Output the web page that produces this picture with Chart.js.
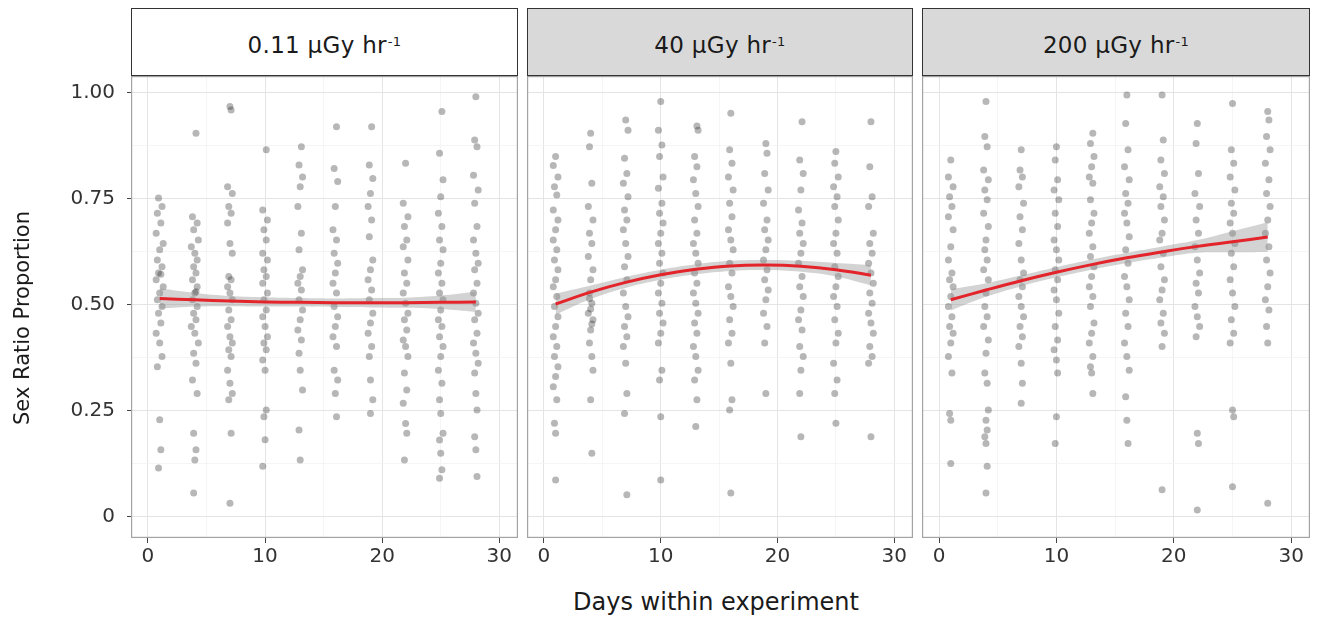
<!DOCTYPE html>
<html>
<head>
<meta charset="utf-8">
<script src="https://cdn.jsdelivr.net/npm/chart.js@4.4.1/dist/chart.umd.min.js"></script>
<style>
  body { margin:0; background:#fff; width:1318px; height:619px; overflow:hidden; position:relative;
         font-family:"DejaVu Sans", sans-serif; }
  .strip { position:absolute; top:8px; height:68px; border:1.5px solid #333; box-sizing:border-box;
           display:flex; align-items:center; justify-content:center; font-size:23px; color:#1a1a1a;
           padding-top:6px; letter-spacing:0.3px; }
  .strip sup { font-size:13px; position:relative; top:-4px; margin-left:1px; }
  canvas { position:absolute; }
  #xtitle { position:absolute; left:0; width:1432px; top:588px; text-align:center; font-size:24px; color:#1a1a1a; }
  #ytitle { position:absolute; left:22px; top:318px; width:300px; margin-left:-150px; margin-top:-14px;
            height:28px; line-height:28px; text-align:center; font-size:21px; color:#1a1a1a;
            transform:rotate(-90deg); }
</style>
</head>
<body>
<div class="strip" style="left:131px;width:387px;background:#ffffff;">0.11 µGy hr<sup>-1</sup></div>
<div class="strip" style="left:527px;width:386px;background:#d9d9d9;">40 µGy hr<sup>-1</sup></div>
<div class="strip" style="left:922px;width:388px;background:#d9d9d9;">200 µGy hr<sup>-1</sup></div>
<canvas id="pLow" width="518" height="504" style="left:0px;top:76px;"></canvas>
<canvas id="pMid" width="386" height="504" style="left:527px;top:76px;"></canvas>
<canvas id="pHigh" width="388" height="504" style="left:922px;top:76px;"></canvas>
<div id="ytitle">Sex Ratio Proportion</div>
<div id="xtitle">Days within experiment</div>
<script>
// Sampling days used for the smoothed fit
const fitDays = [1, 4, 7, 10, 13, 16, 19, 22, 25, 28];

// 0.11 µGy/hr: observations [day (jittered), proportion]
const lowPoints = [
  [0.9,.752],[1.2,.732],[0.8,.716],[1.1,.693],[0.7,.669],[1.3,.645],[1.0,.630],[0.8,.606],[1.2,.590],[0.9,.575],[1.1,.572],[0.7,.559],[1.3,.543],[1.0,.528],[0.8,.512],[1.2,.496],[0.9,.480],[1.1,.457],[0.7,.433],[1.0,.410],[1.2,.378],[0.8,.354],[1.0,.229],[1.1,.158],[0.9,.115],
  [4.1,.905],[3.8,.708],[4.2,.693],[3.9,.677],[4.3,.653],[3.7,.637],[4.0,.622],[4.2,.606],[3.9,.590],[4.1,.575],[3.8,.559],[4.2,.543],[4.0,.528],[4.1,.531],[3.8,.512],[4.2,.496],[3.9,.480],[4.1,.465],[3.7,.449],[4.0,.433],[4.3,.410],[3.9,.386],[4.1,.362],[3.8,.323],[4.2,.291],[3.9,.197],[4.1,.158],[4.0,.134],[3.9,.056],
  [7.0,.968],[7.1,.960],[6.8,.779],[7.2,.763],[6.9,.732],[7.1,.716],[6.8,.693],[7.0,.645],[7.2,.622],[6.9,.567],[7.1,.559],[6.8,.543],[7.0,.528],[7.2,.512],[6.9,.488],[7.1,.465],[6.8,.449],[7.0,.425],[7.2,.410],[6.9,.394],[7.1,.378],[6.8,.346],[7.0,.315],[7.2,.291],[6.9,.276],[7.1,.197],[7.0,.032],
  [10.1,.866],[9.8,.724],[10.2,.700],[9.9,.677],[10.1,.653],[9.8,.622],[10.2,.606],[9.9,.583],[10.1,.567],[9.8,.551],[10.2,.528],[9.9,.512],[10.1,.488],[9.8,.472],[10.0,.449],[10.2,.425],[9.9,.410],[10.1,.394],[9.8,.370],[10.0,.346],[10.1,.252],[9.9,.236],[10.0,.182],[9.8,.119],
  [13.1,.873],[12.9,.830],[13.2,.802],[13.0,.779],[12.8,.732],[13.1,.669],[12.9,.630],[13.2,.583],[13.0,.567],[12.8,.551],[13.1,.535],[12.9,.512],[13.2,.488],[13.0,.465],[12.8,.441],[13.1,.417],[12.9,.386],[13.0,.346],[13.2,.299],[12.9,.205],[13.0,.134],
  [16.1,.920],[15.9,.822],[16.2,.791],[16.0,.732],[15.8,.677],[16.1,.653],[15.9,.622],[16.2,.598],[16.0,.575],[15.8,.551],[16.1,.528],[15.9,.496],[16.2,.472],[16.0,.449],[15.8,.425],[16.1,.402],[15.9,.346],[16.2,.323],[16.0,.291],[16.1,.236],
  [19.1,.920],[18.9,.830],[19.2,.798],[19.0,.763],[18.8,.732],[19.1,.700],[18.9,.661],[19.2,.606],[19.0,.583],[18.8,.559],[19.1,.535],[18.9,.512],[19.2,.480],[19.0,.457],[18.8,.433],[19.1,.402],[18.9,.378],[19.0,.323],[19.2,.276],[19.0,.244],
  [22.0,.834],[21.8,.740],[22.2,.708],[21.9,.685],[22.1,.653],[21.8,.637],[22.2,.606],[21.9,.575],[22.1,.551],[21.8,.528],[22.0,.504],[22.2,.480],[21.9,.465],[22.1,.441],[21.8,.417],[22.0,.402],[22.2,.378],[21.9,.339],[22.1,.299],[21.8,.268],[22.0,.220],[22.1,.197],[21.9,.134],
  [25.1,.956],[24.9,.858],[25.2,.795],[25.0,.755],[24.8,.716],[25.1,.685],[24.9,.653],[25.2,.630],[25.0,.598],[24.8,.575],[25.1,.551],[24.9,.528],[25.2,.512],[25.0,.488],[24.8,.465],[25.1,.449],[24.9,.425],[25.2,.402],[25.0,.378],[24.8,.346],[25.1,.315],[24.9,.276],[25.0,.244],[25.2,.197],[24.9,.181],[25.0,.150],[25.1,.111],[24.9,.091],
  [28.0,.991],[27.9,.889],[28.1,.873],[27.8,.806],[28.2,.771],[27.9,.740],[28.1,.685],[27.8,.653],[28.0,.622],[28.2,.598],[27.9,.583],[28.1,.551],[27.8,.528],[28.0,.504],[28.2,.480],[27.9,.465],[28.1,.433],[27.8,.410],[28.0,.386],[28.2,.362],[27.9,.339],[28.0,.291],[28.1,.252],[27.9,.189],[28.0,.158],[28.1,.095]
];
const lowFit   = [0.515, 0.512, 0.509, 0.507, 0.506, 0.505, 0.505, 0.505, 0.506, 0.507];
const lowUpper = [0.539, 0.528, 0.521, 0.518, 0.516, 0.515, 0.516, 0.517, 0.522, 0.531];
const lowLower = [0.491, 0.496, 0.497, 0.496, 0.496, 0.495, 0.494, 0.493, 0.490, 0.483];

// 40 µGy/hr
const midPoints = [
  [1.0,.850],[0.8,.829],[1.2,.802],[0.9,.779],[1.1,.759],[0.8,.724],[1.2,.700],[1.0,.677],[0.8,.653],[1.1,.630],[0.9,.606],[1.2,.583],[1.0,.559],[0.8,.543],[1.1,.520],[0.9,.496],[1.2,.472],[1.0,.449],[0.8,.425],[1.1,.402],[0.9,.378],[1.2,.354],[1.0,.331],[0.8,.307],[1.1,.276],[0.9,.221],[1.0,.197],[1.0,.087],
  [4.0,.905],[3.9,.873],[4.1,.787],[3.8,.732],[4.2,.700],[3.9,.669],[4.1,.645],[3.8,.614],[4.2,.583],[4.0,.559],[3.9,.528],[3.9,.515],[4.1,.504],[4.0,.490],[3.8,.480],[4.2,.465],[4.1,.455],[4.0,.441],[3.9,.410],[4.1,.378],[4.2,.346],[4.0,.276],[4.1,.150],
  [7.0,.936],[7.2,.912],[6.9,.846],[7.1,.810],[6.8,.787],[7.2,.755],[6.9,.724],[7.1,.700],[6.8,.677],[7.0,.645],[7.2,.614],[6.9,.590],[7.1,.559],[6.8,.528],[7.0,.496],[7.2,.472],[6.9,.449],[7.1,.425],[6.8,.402],[7.0,.362],[7.1,.291],[6.9,.244],[7.1,.052],
  [10.0,.980],[9.8,.912],[10.1,.877],[9.9,.850],[10.2,.802],[9.8,.775],[10.1,.740],[9.9,.716],[10.2,.693],[10.0,.669],[9.8,.645],[10.1,.622],[9.9,.598],[10.2,.575],[10.0,.551],[9.8,.528],[10.1,.504],[9.9,.480],[10.2,.457],[10.0,.433],[9.8,.410],[10.1,.346],[9.9,.323],[10.0,.236],[10.0,.087],
  [13.1,.922],[13.2,.912],[12.9,.850],[13.1,.826],[12.8,.795],[13.0,.763],[13.2,.732],[12.9,.700],[13.1,.669],[12.8,.645],[13.0,.622],[13.2,.598],[12.9,.575],[13.1,.551],[12.8,.528],[13.0,.504],[13.2,.480],[12.9,.457],[13.1,.433],[12.8,.402],[13.0,.378],[13.2,.346],[12.9,.323],[13.1,.276],[13.0,.213],
  [16.0,.952],[15.9,.866],[16.1,.834],[15.8,.802],[16.2,.771],[15.9,.740],[16.1,.708],[15.8,.677],[16.0,.653],[16.2,.630],[15.9,.598],[16.1,.575],[15.8,.543],[16.0,.520],[16.2,.496],[15.9,.465],[16.1,.433],[15.8,.410],[16.0,.362],[16.1,.276],[15.9,.252],[16.0,.056],
  [19.0,.881],[19.1,.858],[18.9,.810],[19.2,.771],[18.8,.740],[19.1,.700],[18.9,.677],[19.2,.653],[19.0,.630],[18.8,.606],[19.1,.583],[18.9,.559],[19.2,.535],[19.0,.512],[18.8,.480],[19.1,.449],[18.9,.410],[19.0,.291],
  [22.1,.932],[21.9,.842],[22.2,.810],[22.0,.771],[21.8,.724],[22.1,.693],[21.9,.669],[22.2,.645],[22.0,.622],[21.8,.598],[22.1,.567],[21.9,.543],[22.2,.520],[22.0,.488],[21.8,.465],[22.1,.441],[21.9,.402],[22.2,.378],[22.0,.346],[21.9,.291],[22.0,.189],
  [25.0,.862],[24.9,.834],[25.2,.802],[24.8,.779],[25.1,.755],[24.9,.732],[25.2,.700],[25.0,.669],[24.8,.645],[25.1,.622],[24.9,.590],[25.2,.567],[25.0,.543],[24.8,.520],[25.1,.496],[24.9,.465],[25.2,.433],[25.0,.410],[24.8,.362],[25.1,.323],[24.9,.291],[25.0,.221],
  [28.0,.932],[27.9,.826],[28.1,.755],[27.8,.732],[28.2,.669],[27.9,.645],[28.1,.622],[27.8,.598],[28.0,.575],[28.2,.551],[27.9,.528],[28.1,.504],[27.8,.480],[28.0,.457],[28.2,.433],[27.9,.402],[28.1,.378],[27.8,.362],[28.0,.189]
];
const midFit   = [0.502, 0.530, 0.553, 0.571, 0.584, 0.592, 0.594, 0.591, 0.583, 0.570];
const midUpper = [0.527, 0.546, 0.566, 0.583, 0.596, 0.604, 0.606, 0.604, 0.599, 0.594];
const midLower = [0.477, 0.514, 0.540, 0.559, 0.572, 0.580, 0.582, 0.578, 0.567, 0.546];

// 200 µGy/hr
const highPoints = [
  [1.0,.842],[0.8,.802],[1.2,.779],[0.9,.755],[1.1,.732],[0.8,.708],[1.2,.677],[1.0,.637],[0.8,.606],[1.1,.575],[0.9,.559],[1.2,.543],[1.0,.520],[0.8,.496],[1.1,.472],[0.9,.449],[1.2,.433],[1.0,.410],[0.8,.378],[1.1,.339],[0.9,.244],[1.0,.228],[1.0,.126],
  [4.0,.980],[3.9,.897],[4.1,.873],[3.8,.818],[4.2,.795],[3.9,.771],[4.1,.748],[3.8,.716],[4.2,.685],[4.0,.653],[3.9,.630],[4.1,.606],[3.8,.583],[4.2,.559],[4.0,.528],[3.9,.496],[4.1,.472],[3.8,.449],[4.2,.417],[4.0,.386],[3.9,.339],[4.1,.315],[4.2,.252],[4.0,.228],[4.1,.205],[3.9,.189],[4.0,.173],[4.1,.119],[4.0,.056],
  [7.0,.866],[6.9,.818],[7.1,.802],[6.8,.779],[7.2,.740],[6.9,.708],[7.1,.677],[6.8,.645],[7.0,.606],[7.2,.575],[6.9,.559],[7.1,.543],[6.8,.520],[7.0,.496],[7.2,.472],[6.9,.449],[7.1,.425],[6.8,.402],[7.0,.362],[7.1,.315],[7.0,.268],
  [10.0,.873],[9.9,.842],[10.1,.795],[9.8,.771],[10.2,.748],[9.9,.716],[10.1,.685],[9.8,.653],[10.0,.630],[10.2,.606],[9.9,.583],[10.1,.559],[9.8,.535],[10.0,.512],[10.2,.480],[9.9,.449],[10.1,.417],[9.8,.394],[10.0,.370],[10.1,.339],[10.0,.236],[9.9,.173],
  [13.1,.905],[12.9,.881],[13.2,.850],[13.0,.826],[12.8,.802],[13.1,.787],[12.9,.748],[13.2,.716],[13.0,.693],[12.8,.669],[13.1,.637],[12.9,.614],[13.2,.590],[13.0,.567],[12.8,.543],[13.1,.520],[12.9,.496],[13.2,.457],[13.0,.433],[12.8,.410],[13.1,.378],[12.9,.354],[13.0,.339],[13.1,.291],
  [16.0,.995],[15.9,.928],[16.1,.866],[15.8,.826],[16.2,.795],[15.9,.763],[16.1,.740],[15.8,.716],[16.0,.693],[16.2,.661],[15.9,.630],[16.1,.598],[15.8,.567],[16.0,.543],[16.2,.512],[15.9,.480],[16.1,.449],[15.8,.410],[16.0,.378],[16.2,.346],[15.9,.283],[16.0,.228],[16.1,.173],
  [19.0,.995],[19.1,.889],[18.9,.842],[19.2,.810],[18.8,.779],[19.1,.755],[18.9,.732],[19.2,.700],[19.0,.669],[18.8,.653],[19.1,.622],[18.9,.590],[19.2,.559],[19.0,.535],[18.8,.512],[19.1,.480],[18.9,.457],[19.2,.433],[19.0,.402],[19.0,.064],
  [22.0,.928],[21.9,.881],[22.1,.810],[21.8,.763],[22.2,.732],[21.9,.700],[22.1,.669],[21.8,.637],[22.0,.606],[22.2,.575],[21.9,.551],[22.1,.528],[21.8,.496],[22.0,.472],[22.2,.449],[21.9,.425],[22.0,.197],[22.1,.173],[22.0,.016],
  [25.0,.975],[24.9,.866],[25.1,.834],[24.8,.802],[25.2,.771],[24.9,.740],[25.1,.716],[24.8,.693],[25.0,.669],[25.2,.645],[24.9,.622],[25.1,.590],[24.8,.559],[25.0,.528],[25.2,.496],[24.9,.465],[25.1,.433],[24.8,.410],[25.0,.252],[25.1,.236],[25.0,.071],
  [28.0,.956],[28.1,.936],[27.9,.897],[28.2,.866],[27.8,.834],[28.1,.795],[27.9,.763],[28.2,.732],[28.0,.700],[27.8,.669],[28.1,.637],[27.9,.606],[28.2,.575],[28.0,.543],[27.8,.512],[28.1,.488],[27.9,.449],[28.0,.410],[28.0,.032]
];
const highFit   = [0.512, 0.535, 0.557, 0.577, 0.595, 0.611, 0.625, 0.638, 0.649, 0.660];
const highUpper = [0.537, 0.551, 0.570, 0.589, 0.607, 0.623, 0.638, 0.653, 0.674, 0.695];
const highLower = [0.487, 0.519, 0.544, 0.565, 0.583, 0.599, 0.612, 0.623, 0.624, 0.625];

// Axis tick settings
const yTickValues = [0, 0.25, 0.5, 0.75, 1];
const yTickLabels = ['0', '0.25', '0.50', '0.75', '1.00'];
const xTickValues = [0, 10, 20, 30];

Chart.defaults.font.family = '"DejaVu Sans", sans-serif';
Chart.defaults.animation = false;

const isMajorY = v => yTickValues.some(t => Math.abs(t - v) < 1e-6);
const isMajorX = v => xTickValues.some(t => Math.abs(t - v) < 1e-6);

const panelFrame = {
  id: 'panelFrame',
  afterDraw(chart) {
    const { ctx, chartArea: a } = chart;
    ctx.save();
    ctx.strokeStyle = '#a3a3a3';
    ctx.lineWidth = 1.2;
    ctx.strokeRect(a.left + 0.6, a.top + 0.6, a.right - a.left - 1.2, a.bottom - a.top - 1.2);
    ctx.restore();
  }
};

function series(vals) {
  return fitDays.map((d, i) => ({ x: d, y: vals[i] }));
}

// Scales keep a fixed box so the plotting area lines up across the three panels
function fixBox(s, w, h) {
  if (w !== null) s.width = w;
  if (h !== null) s.height = h;
  s.paddingTop = 0; s.paddingBottom = 0; s.paddingLeft = 0; s.paddingRight = 0;
}

function makePanel(id, points, fit, upper, lower, showY) {
  new Chart(document.getElementById(id), {
    type: 'scatter',
    data: {
      datasets: [
        { type: 'line', data: series(fit), borderColor: '#e3242b', borderWidth: 3,
          pointRadius: 0, tension: 0.4, fill: false, order: 0 },
        { type: 'line', data: series(upper), borderWidth: 0, pointRadius: 0, tension: 0.4,
          backgroundColor: 'rgba(150,150,150,0.42)', fill: '+1', order: 1 },
        { type: 'line', data: series(lower), borderWidth: 0, pointRadius: 0, tension: 0.4,
          fill: false, order: 1 },
        { data: points.map(p => ({ x: p[0], y: p[1] })), pointRadius: 3.5, borderWidth: 0,
          backgroundColor: 'rgba(30,30,30,0.32)', order: 2 }
      ]
    },
    options: {
      responsive: false,
      layout: { padding: 0, autoPadding: false },
      plugins: { legend: { display: false }, tooltip: { enabled: false } },
      scales: {
        x: {
          type: 'linear', min: -1.45, max: 31.6,
          afterFit(s) { fixBox(s, null, 42); },
          border: { display: false },
          grid: {
            color: c => isMajorX(c.tick.value) ? '#e4e4e4' : '#f2f2f2',
            lineWidth: c => isMajorX(c.tick.value) ? 1 : 0.8,
            tickLength: 5,
            tickColor: c => isMajorX(c.tick.value) ? '#444' : 'rgba(0,0,0,0)'
          },
          ticks: {
            stepSize: 5, includeBounds: false, autoSkip: false, maxRotation: 0, padding: 2,
            color: '#333', font: { size: 20 },
            callback: v => isMajorX(v) ? String(Math.round(v)) : ''
          }
        },
        y: {
          type: 'linear', min: -0.05, max: 1.04,
          afterFit(s) { fixBox(s, showY ? 131 : 0, null); },
          border: { display: false },
          grid: {
            color: c => isMajorY(c.tick.value) ? '#e4e4e4' : '#f2f2f2',
            lineWidth: c => isMajorY(c.tick.value) ? 1 : 0.8,
            drawTicks: showY,
            tickLength: 4,
            tickColor: c => isMajorY(c.tick.value) ? '#444' : 'rgba(0,0,0,0)'
          },
          ticks: {
            display: showY, stepSize: 0.125, includeBounds: false, autoSkip: false, padding: 12,
            color: '#333', font: { size: 20 },
            callback: v => {
              const i = yTickValues.findIndex(t => Math.abs(t - v) < 1e-6);
              return i >= 0 ? yTickLabels[i] : '';
            }
          }
        }
      }
    },
    plugins: [panelFrame]
  });
}

makePanel('pLow', lowPoints, lowFit, lowUpper, lowLower, true);
makePanel('pMid', midPoints, midFit, midUpper, midLower, false);
makePanel('pHigh', highPoints, highFit, highUpper, highLower, false);
</script>
</body>
</html>
